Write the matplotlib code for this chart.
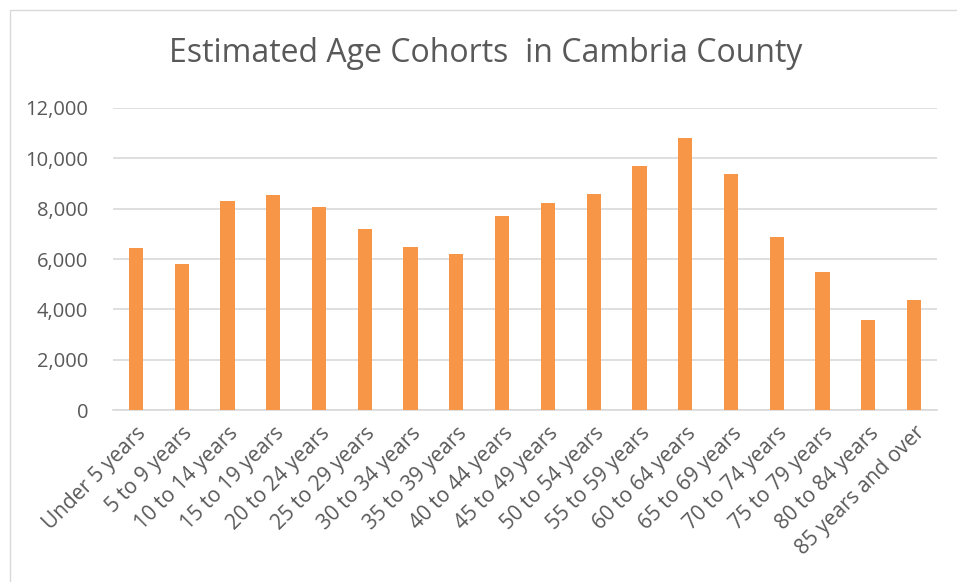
import matplotlib
matplotlib.use("Agg")
import matplotlib.pyplot as plt
from matplotlib.patches import Rectangle
from matplotlib.ticker import FuncFormatter

categories = [
    "Under 5 years", "5 to 9 years", "10 to 14 years", "15 to 19 years",
    "20 to 24 years", "25 to 29 years", "30 to 34 years", "35 to 39 years",
    "40 to 44 years", "45 to 49 years", "50 to 54 years", "55 to 59 years",
    "60 to 64 years", "65 to 69 years", "70 to 74 years", "75 to 79 years",
    "80 to 84 years", "85 years and over",
]
population = [
    6450, 5800, 8290, 8530, 8060, 7200, 6480, 6190, 7720,
    8220, 8580, 9710, 10820, 9390, 6870, 5490, 3570, 4370,
]
y_ticks = [0, 2000, 4000, 6000, 8000, 10000, 12000]

text_color = "#595959"
grid_color = "#d9d9d9"
bar_color = "#f79646"

plt.rcParams["font.family"] = ["Open Sans", "DejaVu Sans"]

fig = plt.figure(figsize=(9.57, 5.82), dpi=100)
W, H = 957, 582

# chart border
fig.patches.append(Rectangle((10 / W, -0.01), 1.0, (H - 10) / H + 0.01,
                             transform=fig.transFigure, fill=False,
                             edgecolor=grid_color, linewidth=1.0))

ax = fig.add_axes([113 / W, 1 - 410 / H, (937 - 113) / W, (410 - 108) / H])
x = range(len(categories))
ax.bar(x, population, width=0.31, color=bar_color, zorder=3)

ax.set_xlim(-0.5, len(categories) - 0.5)
ax.set_ylim(0, 12000)
ax.set_yticks(y_ticks)
ax.yaxis.set_major_formatter(FuncFormatter(lambda v, p: f"{int(v):,}"))
ax.grid(axis="y", color=grid_color, linewidth=1.2, zorder=0)
for s in ["top", "right", "left"]:
    ax.spines[s].set_visible(False)
ax.spines["bottom"].set_color(grid_color)
ax.spines["bottom"].set_linewidth(1.2)

ax.set_xticks(list(x))
ax.set_xticklabels(categories, rotation=45, ha="right", rotation_mode="anchor",
                   fontsize=15, color=text_color)
ax.tick_params(axis="x", length=0, pad=9)
ax.tick_params(axis="y", length=0, pad=18, labelsize=14.5, labelcolor=text_color)

fig.text(486 / W, 1 - 53 / H, "Estimated Age Cohorts  in Cambria County",
         ha="center", va="center", fontsize=23, color=text_color)

fig.savefig("out.png", dpi=100)
